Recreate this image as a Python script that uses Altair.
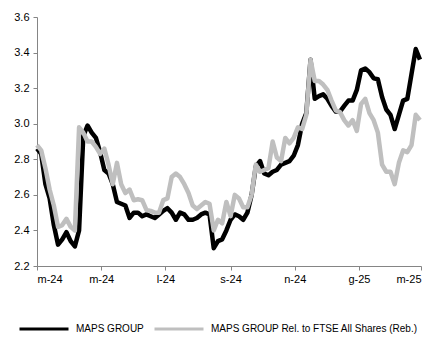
import altair as alt
import pandas as pd

# ---- data (one point every 4 days from 2024-03-01) ----
start_date = "2024-03-01"
step_days = 4

maps_group = [
    2.86, 2.83, 2.66, 2.58, 2.43, 2.32, 2.35, 2.39, 2.34, 2.31,
    2.40, 2.93, 2.99, 2.95, 2.92, 2.84, 2.74, 2.72, 2.66, 2.56,
    2.55, 2.54, 2.47, 2.50, 2.50, 2.48, 2.49, 2.48, 2.47, 2.49,
    2.51, 2.525, 2.50, 2.46, 2.50, 2.49, 2.46, 2.46, 2.47, 2.49,
    2.50, 2.49, 2.30, 2.34, 2.35, 2.40, 2.46, 2.49, 2.48, 2.46,
    2.50, 2.60, 2.76, 2.79, 2.72, 2.71, 2.73, 2.74, 2.77, 2.78,
    2.79, 2.82, 2.88, 3.00, 3.06, 3.36, 3.14, 3.155, 3.165, 3.14,
    3.10, 3.068, 3.068, 3.10, 3.13, 3.13, 3.19, 3.30, 3.31, 3.29,
    3.255, 3.25, 3.15, 3.08, 3.05, 2.97, 3.05, 3.13, 3.14, 3.28,
    3.42, 3.36,
]

maps_rel = [
    2.88, 2.85, 2.75, 2.63, 2.54, 2.42, 2.43, 2.465, 2.42, 2.40,
    2.98, 2.95, 2.90, 2.90, 2.87, 2.83, 2.86, 2.77, 2.66, 2.78,
    2.66, 2.61, 2.63, 2.57, 2.575, 2.57, 2.515, 2.51, 2.50, 2.50,
    2.57, 2.58, 2.70, 2.72, 2.70, 2.66, 2.61, 2.54, 2.52, 2.54,
    2.56, 2.55, 2.40, 2.46, 2.44, 2.56, 2.48, 2.60, 2.58, 2.53,
    2.53, 2.60, 2.77, 2.73, 2.74, 2.75, 2.90, 2.81, 2.79, 2.92,
    2.89, 2.92, 2.98, 2.97, 3.05, 3.36, 3.24, 3.24, 3.22, 3.19,
    3.13, 3.075, 3.065, 3.02, 2.99, 3.02, 2.96, 3.11, 3.14, 3.06,
    3.02, 2.95, 2.77, 2.73, 2.73, 2.66, 2.78, 2.85, 2.84, 2.88,
    3.05, 3.02,
]

series_names = ["MAPS GROUP", "MAPS GROUP Rel. to FTSE All Shares (Reb.)"]
series_colors = ["#000000", "#bfbfbf"]

y_ticks = [2.2, 2.4, 2.6, 2.8, 3.0, 3.2, 3.4, 3.6]
x_ticks = ["2024-03-01", "2024-05-01", "2024-07-01", "2024-09-01",
           "2024-11-01", "2025-01-01", "2025-03-01"]
x_domain = ["2024-03-01", "2025-03-01"]
month_initials = ["g", "f", "m", "a", "m", "g", "l", "a", "s", "o", "n", "d"]

# ---- build table ----
dates = pd.date_range(start_date, periods=len(maps_group), freq=f"{step_days}D")
rows = []
for name, vals in zip(series_names, [maps_group, maps_rel]):
    for d, v in zip(dates, vals):
        rows.append({"date": d.strftime("%Y-%m-%d"), "value": v, "series": name})
df = pd.DataFrame(rows)


def ms(s):
    return int(pd.Timestamp(s, tz="UTC").value // 10**6)


label_expr = (
    "[" + ",".join(f"'{m}'" for m in month_initials) + "][utcmonth(datum.value)]"
    " + '-' + utcFormat(datum.value, '%y')"
)

font = "Liberation Sans"
axis_col = "#858585"

base = alt.Chart(df).mark_line(
    strokeWidth=4.5, interpolate="linear", strokeJoin="round"
).encode(
    x=alt.X(
        "date:T",
        scale=alt.Scale(type="utc", domain=[ms(d) for d in x_domain]),
        axis=alt.Axis(
            values=[ms(t) for t in x_ticks],
            labelExpr=label_expr,
            title=None,
            grid=False,
            tickSize=4,
            labelPadding=3,
            labelFontSize=11,
        ),
    ),
    y=alt.Y(
        "value:Q",
        scale=alt.Scale(domain=[y_ticks[0], y_ticks[-1]], nice=False, zero=False),
        axis=alt.Axis(
            values=y_ticks,
            format=".1f",
            title=None,
            grid=False,
            tickSize=4,
            labelPadding=4,
            labelFontSize=11,
        ),
    ),
    color=alt.Color(
        "series:N",
        scale=alt.Scale(domain=series_names, range=series_colors),
        sort=series_names,
        legend=alt.Legend(
            title=None,
            orient="none",
            direction="horizontal",
            legendX=-19,
            legendY=286,
            symbolType="stroke",
            symbolSize=2401,
            symbolStrokeWidth=3,
            labelFontSize=10,
            labelOffset=6,
            columnPadding=4,
            labelLimit=400,
            labelFont=font,
            labelColor="#000000",
        ),
    ),
)

black_layer = base.transform_filter(alt.datum.series == series_names[0])
gray_layer = base.transform_filter(alt.datum.series == series_names[1])

chart = (
    alt.layer(black_layer, gray_layer)
    .properties(
        width=384,
        height=249,
        autosize="none",
        padding={"left": 29, "top": 9, "right": 4, "bottom": 70},
    )
    .configure_view(stroke=None)
    .configure_axis(
        domainColor=axis_col,
        tickColor=axis_col,
        labelColor="#000000",
        labelFont=font,
        domainWidth=1,
        tickWidth=1,
    )
)

chart.save("out.html", embed_options={"renderer": "svg", "actions": False})
